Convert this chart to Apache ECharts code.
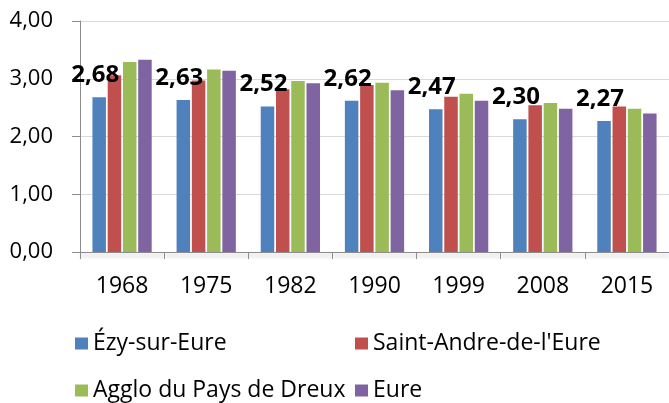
<!DOCTYPE html>
<html>
<head>
<meta charset="utf-8">
<script src="https://cdn.jsdelivr.net/npm/echarts@6/dist/echarts.min.js"></script>
<style>
  html, body { margin: 0; padding: 0; background: #ffffff; }
  #chart { width: 669px; height: 403px; }
</style>
</head>
<body>
<div id="chart"></div>
<script>
// Average household size per census year
const years = ['1968', '1975', '1982', '1990', '1999', '2008', '2015'];
const seriesNames = ['Ézy-sur-Eure', "Saint-Andre-de-l'Eure", 'Agglo du Pays de Dreux', 'Eure'];
const ezy = [2.68, 2.63, 2.52, 2.62, 2.47, 2.30, 2.27];
const saintAndre = [3.06, 2.97, 2.82, 2.89, 2.69, 2.54, 2.52];
const agglo = [3.29, 3.16, 2.96, 2.93, 2.74, 2.58, 2.48];
const eure = [3.33, 3.14, 2.92, 2.80, 2.62, 2.48, 2.40];
const colors = ['#4f81bd', '#c0504d', '#9bbb59', '#8064a2'];

const FONT = "'Open Sans', sans-serif";
const fr = (v) => v.toFixed(2).replace('.', ',');

const bar = (name, data, color, withLabel) => ({
  name, type: 'bar', data, barWidth: 13.5, barGap: '13%',
  itemStyle: { color },
  label: withLabel
    ? { show: true, position: 'top', distance: 10, offset: [-4, 0], color: '#000', fontFamily: FONT,
        fontWeight: 'bold', fontSize: 24, formatter: (p) => fr(p.value) }
    : { show: false },
});

const legendText = { color: '#000', fontFamily: FONT, fontSize: 23 };
const chart = echarts.init(document.getElementById('chart'), null, { renderer: 'canvas' });
chart.setOption({
  backgroundColor: '#ffffff',
  animation: false,
  color: colors,
  grid: { left: 80, right: 0, top: 21, bottom: 151 },
  legend: [
    { data: [seriesNames[0], seriesNames[2]], orient: 'vertical', left: 75, top: 332, padding: 0,
      itemWidth: 13, itemHeight: 12, itemGap: 24, icon: 'rect', textStyle: legendText },
    { data: [seriesNames[1], seriesNames[3]], orient: 'vertical', left: 355, top: 332, padding: 0,
      itemWidth: 13, itemHeight: 12, itemGap: 24, icon: 'rect', textStyle: legendText },
  ],
  xAxis: {
    type: 'category', data: years,
    axisLine: { lineStyle: { color: '#8c8c8c', width: 1, shadowColor: 'rgba(0,0,0,0.35)', shadowBlur: 4, shadowOffsetY: 3 } },
    axisTick: { show: true, length: 7, lineStyle: { color: '#8c8c8c' } },
    axisLabel: { color: '#000', fontFamily: FONT, fontSize: 23, margin: 23 },
  },
  yAxis: {
    type: 'value', min: 0, max: 4, interval: 1,
    axisLine: { show: true, lineStyle: { color: '#8c8c8c' } },
    axisTick: { show: true, length: 8, lineStyle: { color: '#8c8c8c' } },
    splitLine: { lineStyle: { color: '#d9d9d9' } },
    axisLabel: { color: '#000', fontFamily: FONT, fontSize: 22, margin: 27, formatter: fr },
  },
  series: [
    bar(seriesNames[0], ezy, colors[0], true),
    bar(seriesNames[1], saintAndre, colors[1], false),
    bar(seriesNames[2], agglo, colors[2], false),
    bar(seriesNames[3], eure, colors[3], false),
  ],
});
</script>
</body>
</html>
